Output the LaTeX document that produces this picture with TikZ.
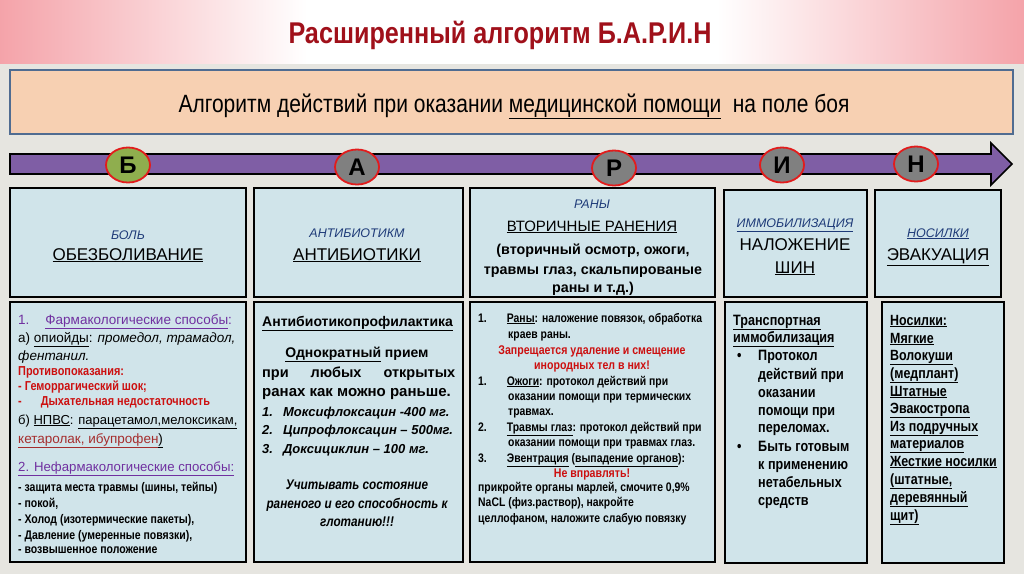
\documentclass[tikz,border=0pt]{standalone}
\usepackage{fontspec}
\setmainfont{Liberation Sans}
\newfontfamily\nar[FakeStretch=0.84]{Liberation Sans}
\usetikzlibrary{shapes.geometric}
\definecolor{bgc}{RGB}{230,229,224}
\definecolor{hdrc}{RGB}{238,108,118}
\definecolor{titc}{RGB}{160,16,26}
\definecolor{peach}{RGB}{247,208,178}
\definecolor{peachb}{RGB}{80,108,145}
\definecolor{purp}{RGB}{127,94,165}
\definecolor{grn}{RGB}{143,174,78}
\definecolor{gry}{RGB}{128,128,128}
\definecolor{redb}{RGB}{226,28,28}
\definecolor{boxf}{RGB}{208,228,234}
\definecolor{dblue}{RGB}{30,58,120}
\definecolor{ptext}{RGB}{112,48,160}
\definecolor{rtext}{RGB}{204,16,16}
\definecolor{kbrown}{RGB}{165,45,45}
\newcommand\fsz[1]{\fontsize{#1}{#1}\selectfont}
\pgfdeclarehorizontalshading{hdrsh}{100bp}{color(0bp)=(hdrc); color(22bp)=(hdrc!75!white); color(40bp)=(white); color(60bp)=(white); color(78bp)=(hdrc!75!white); color(100bp)=(hdrc)}
\tikzset{
  box/.style={draw=black, line width=1.6pt, fill=boxf},
  circ/.style={ellipse, draw=redb, line width=1.8pt, minimum width=44pt, minimum height=35pt, inner sep=0pt, font=\bfseries\fsz{24}},
  ln/.style={anchor=base west, inner sep=0pt},
  cn/.style={anchor=base, inner sep=0pt},
}
\begin{document}
\begin{tikzpicture}[x=1pt,y=-1pt]
\useasboundingbox (0,0) rectangle (1024,574);
\fill[bgc] (0,0) rectangle (1024,574);
% header
\shade[shading=hdrsh] (0,0) rectangle (1024,63);
\node[cn, text=titc, font=\nar\bfseries\fsz{30}] (title) at (500,43) {Расширенный алгоритм Б.А.Р.И.Н};
% peach box
\draw[fill=peach, draw=peachb, line width=1.6pt] (10,70) rectangle (1013,134);
\node[cn, font=\nar\fsz{25}] (sub) at (514,112) {Алгоритм действий при оказании \underline{медицинской помощи}\ \ на поле боя};
% arrow
\draw[fill=purp, draw=black, line width=1.6pt, line join=miter] (10,154) -- (991,154) -- (991,143) -- (1012,164) -- (991,185) -- (991,174) -- (10,174) -- cycle;
\node[circ, fill=grn] (cB) at (128,165) {Б};
\node[circ, fill=gry] (cA) at (357,167) {А};
\node[circ, fill=gry] (cR) at (614,168) {Р};
\node[circ, fill=gry] (cI) at (782,165) {И};
\node[circ, fill=gry] (cN) at (916,164) {Н};
% upper boxes
\draw[box] (10,188) rectangle (246,297);
\draw[box] (254,188) rectangle (463,297);
\draw[box] (470,188) rectangle (715,297);
\draw[box] (724,190) rectangle (867,297);
\draw[box] (875,190) rectangle (1001,297);
\node[cn, text=dblue, font=\itshape\fsz{12.5}] (u1a) at (128,239) {БОЛЬ};
\node[cn, font=\fsz{17}] (u1b) at (128,260) {\underline{ОБЕЗБОЛИВАНИЕ}};
\node[cn, text=dblue, font=\itshape\fsz{12.5}] (u2a) at (357,237) {АНТИБИОТИКМ};
\node[cn, font=\fsz{17}] (u2b) at (357,260) {\underline{АНТИБИОТИКИ}};
\node[cn, text=dblue, font=\itshape\fsz{12.5}] (u3a) at (592,208) {РАНЫ};
\node[cn, font=\fsz{15}] (u3b) at (592,231) {\underline{ВТОРИЧНЫЕ РАНЕНИЯ}};
\node[cn, font=\bfseries\fsz{14.3}] (u3c) at (593,254) {(вторичный осмотр, ожоги,};
\node[cn, font=\bfseries\fsz{14.3}] (u3d) at (593,274) {травмы глаз, скальпированые};
\node[cn, font=\bfseries\fsz{14.3}] (u3e) at (593,292) {раны и т.д.)};
\node[cn, text=dblue, font=\itshape\fsz{12.5}] (u4a) at (795,227) {\underline{ИММОБИЛИЗАЦИЯ}};
\node[cn, font=\fsz{17}] (u4b) at (795,250) {НАЛОЖЕНИЕ};
\node[cn, font=\fsz{17}] (u4c) at (795,273) {\underline{ШИН}};
\node[cn, text=dblue, font=\itshape\fsz{12.5}] (u5a) at (938,237) {\underline{НОСИЛКИ}};
\node[cn, font=\fsz{17}] (u5b) at (938,260) {\underline{ЭВАКУАЦИЯ}};
% lower boxes
\draw[box] (10,302) rectangle (246,562);
\draw[box] (254,302) rectangle (463,562);
\draw[box] (470,302) rectangle (715,562);
\draw[box] (725,302) rectangle (867,563);
\draw[box] (882,302) rectangle (1004,563);
% box 1 lower
\node[ln, text=ptext, font=\fsz{13.5}] (l1a) at (18,324) {1.\hspace{16pt}\underline{Фармакологические способы}:};
\node[ln, font=\fsz{13.5}] (l1b) at (18,342) {а) \underline{опиойды}: \textit{промедол, трамадол,}};
\node[ln, font=\itshape\fsz{13.5}] (l1c) at (18,360) {фентанил.};
\tikzset{b1r/.style={ln, text=rtext, font=\nar\bfseries\fsz{13}}}
\node[b1r] (l1d) at (18,375) {Противопоказания:};
\node[b1r] (l1e) at (18,390) {- Геморрагический шок;};
\node[b1r] (l1f) at (18,405) {-\hspace{19pt}Дыхательная недостаточность};
\node[ln, font=\fsz{13}] (l1g) at (18,424) {б) \underline{НПВС}: \underline{парацетамол,мелоксикам,}};
\node[ln, font=\fsz{13.5}] (l1h) at (18,443) {\textcolor{kbrown}{\underline{кетаролак, ибупрофен}}\underline{)}};
\node[ln, text=ptext, font=\fsz{13.2}] (l1i) at (18,471) {\underline{2. Нефармакологические способы:}};
\tikzset{b1e/.style={ln, font=\nar\bfseries\fsz{12.5}}}
\node[b1e] (l1j) at (18,491) {- защита места травмы (шины, тейпы)};
\node[b1e] (l1k) at (18,507) {- покой,};
\node[b1e] (l1l) at (18,523) {- Холод (изотермические пакеты),};
\node[b1e] (l1m) at (18,539) {- Давление (умеренные повязки),};
\node[b1e] (l1n) at (18,553) {- возвышенное положение};
% box 2 lower
\node[ln, font=\bfseries\fsz{14}] (l2a) at (262,326) {\underline{Антибиотикопрофилактика}};
\node[cn, font=\bfseries\fsz{14}] (l2b) at (357,357) {\underline{Однократный} прием};
\node[ln, font=\bfseries\fsz{14.5}] (l2c) at (262,377) {\makebox[193pt][s]{при\hfill любых\hfill открытых}};
\node[ln, font=\bfseries\fsz{15}] (l2d) at (262,396) {ранах как можно раньше.};
\tikzset{b2i/.style={ln, font=\bfseries\itshape\fsz{13}}}
\node[b2i] (l2e) at (262,416) {1.\hspace{10pt}Моксифлоксацин -400 мг.};
\node[b2i] (l2f) at (262,434) {2.\hspace{10pt}Ципрофлоксацин – 500мг.};
\node[b2i] (l2g) at (262,453) {3.\hspace{10pt}Доксициклин – 100 мг.};
\tikzset{b2c/.style={cn, font=\nar\bfseries\itshape\fsz{14}}}
\node[b2c] (l2h) at (357,489) {Учитывать состояние};
\node[b2c] (l2i) at (357,508) {раненого и его способность к};
\node[b2c] (l2j) at (357,526) {глотанию!!!};
% box 3 lower
\tikzset{b3/.style={ln, font=\nar\bfseries\fsz{12.4}}, b3r/.style={cn, text=rtext, font=\nar\bfseries\fsz{12.6}}}
\node[b3] (l3a) at (478,322) {1.\hspace{20pt}\underline{Раны}: наложение повязок, обработка};
\node[b3] (l3b) at (508,338) {краев раны.};
\node[b3r] (l3c) at (592,354) {Запрещается удаление и смещение};
\node[b3r] (l3d) at (592,369) {инородных тел в них!};
\node[b3] (l3e) at (478,385) {1.\hspace{20pt}\underline{Ожоги}: протокол действий при};
\node[b3] (l3f) at (508,400) {оказании помощи при термических};
\node[b3] (l3g) at (508,415) {травмах.};
\node[b3] (l3h) at (478,431) {2.\hspace{20pt}\underline{Травмы глаз}: протокол действий при};
\node[b3] (l3i) at (508,446) {оказании помощи при травмах глаз.};
\node[b3] (l3j) at (478,462) {3.\hspace{20pt}\underline{Эвентрация} (\underline{выпадение органов}):};
\node[b3r] (l3k) at (592,477) {Не вправлять!};
\node[b3] (l3l) at (478,491) {прикройте органы марлей, смочите 0,9\%};
\node[b3] (l3m) at (478,506) {NaCL (физ.раствор), накройте};
\node[b3] (l3n) at (478,522) {целлофаном, наложите слабую повязку};
% box 4 lower
\tikzset{b4/.style={ln, font=\nar\bfseries\fsz{15}}}
\node[b4] (l4a) at (733,325) {\underline{Транспортная}};
\node[b4] (l4b) at (733,342) {\underline{иммобилизация}};
\node[b4] (l4c) at (737,360) {•};
\node[b4] (l4d) at (758,360) {Протокол};
\node[b4] (l4e) at (758,379) {действий при};
\node[b4] (l4f) at (758,397) {оказании};
\node[b4] (l4g) at (758,415) {помощи при};
\node[b4] (l4h) at (758,432) {переломах.};
\node[b4] (l4i) at (737,451) {•};
\node[b4] (l4j) at (758,451) {Быть готовым};
\node[b4] (l4k) at (758,469) {к применению};
\node[b4] (l4l) at (758,487) {нетабельных};
\node[b4] (l4m) at (758,505) {средств};
% box 5 lower
\tikzset{b5/.style={ln, font=\nar\bfseries\fsz{14.8}}}
\node[b5] (l5a) at (890,325) {\underline{Носилки:}};
\node[b5] (l5b) at (890,343) {\underline{Мягкие}};
\node[b5] (l5c) at (890,360) {\underline{Волокуши}};
\node[b5] (l5d) at (890,378) {\underline{(медплант)}};
\node[b5] (l5e) at (890,396) {\underline{Штатные}};
\node[b5] (l5f) at (890,413) {\underline{Эвакостропа}};
\node[b5] (l5g) at (890,431) {\underline{Из подручных}};
\node[b5] (l5h) at (890,448) {\underline{материалов}};
\node[b5] (l5i) at (890,466) {\underline{Жесткие носилки}};
\node[b5] (l5j) at (890,484) {\underline{(штатные,}};
\node[b5] (l5k) at (890,502) {\underline{деревянный}};
\node[b5] (l5l) at (890,520) {\underline{щит)}};
\end{tikzpicture}
\end{document}
